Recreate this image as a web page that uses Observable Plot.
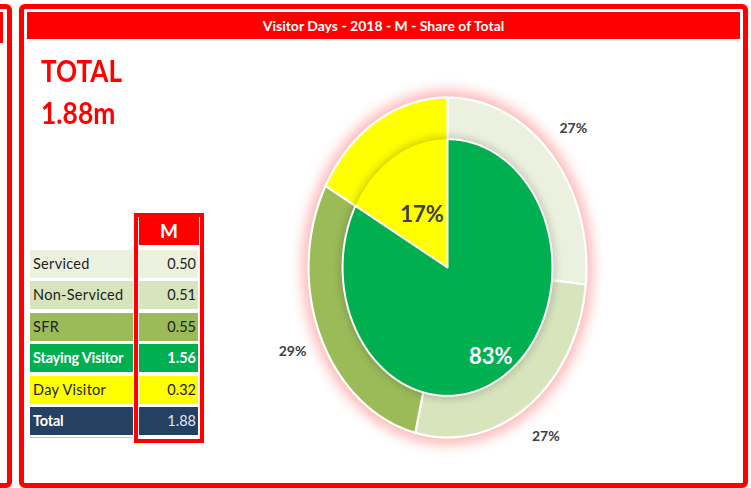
<!DOCTYPE html>
<html>
<head>
<meta charset="utf-8">
<script src="https://cdn.jsdelivr.net/npm/d3@7"></script>
<script src="https://cdn.jsdelivr.net/npm/@observablehq/plot@0.6"></script>
<style>
  html, body { margin: 0; padding: 0; background: #fff; }
  body { width: 751px; height: 488px; position: relative; overflow: hidden; font-family: Lato, "Open Sans", sans-serif; }
  .abs { position: absolute; box-sizing: border-box; }
  #chart { position: absolute; left: 0; top: 0; }
</style>
</head>
<body>
<script>
// ---- data ----
const titleText = "Visitor Days - 2018 - M - Share of Total";
const headerLabel = "M";
const totalHeading = "TOTAL";
const totalText = "1.88m";
const categories = ["Serviced", "Non-Serviced", "SFR", "Staying Visitor", "Day Visitor", "Total"];
const values = [0.50, 0.51, 0.55, 1.56, 0.32, 1.88];
const seriesColors = ["#EBF1DE", "#D8E4BC", "#9BBB59", "#00B050", "#FFFF00", "#254061"];
const ringCategories = ["Serviced", "Non-Serviced", "SFR", "Day Visitor"];
const pieCategories = ["Staying Visitor", "Day Visitor"];

// ---- styles ----
const textColors = ["#1e1e1e", "#1e1e1e", "#1e1e1e", "#ffffff", "#1e1e1e", "#ffffff"];
const valueColors = ["#1e1e1e", "#1e1e1e", "#1e1e1e", "#ffffff", "#1e1e1e", "#dfe5ee"];
const labelBold = [false, false, false, true, false, true];
const valueBold = [false, false, false, true, false, false];

const body = document.body;
function div(style, text) {
  const d = document.createElement("div");
  d.className = "abs";
  Object.assign(d.style, style);
  if (text != null) d.textContent = text;
  body.appendChild(d);
  return d;
}

// frames
div({left: "-30px", top: "4px", width: "42px", height: "484px", border: "5px solid #ff0000", borderRadius: "6px"});
div({left: "0px", top: "12px", width: "3px", height: "31px", background: "#ff0000"});
div({left: "19px", top: "4px", width: "729px", height: "484px", border: "5px solid #ff0000", borderRadius: "6px", boxShadow: "0 0 1px #ff9999"});
div({left: "27px", top: "12px", width: "713px", height: "27px", background: "#ff0000", color: "#fff",
     fontWeight: "bold", fontSize: "14px", lineHeight: "27px", textAlign: "center"}, titleText);

// TOTAL heading
div({left: "41px", top: "55px", fontSize: "30px", lineHeight: "30px", fontWeight: "bold", color: "#ff0000",
     transform: "scaleX(0.87)", transformOrigin: "0 0", whiteSpace: "nowrap"}, totalHeading);
div({left: "41px", top: "97px", fontSize: "30px", lineHeight: "30px", fontWeight: "bold", color: "#ff0000",
     transform: "scaleX(0.88)", transformOrigin: "0 0", whiteSpace: "nowrap"}, totalText);

// table
div({left: "134px", top: "213px", width: "70px", height: "230px", border: "4px solid #ff0000"});
div({left: "139px", top: "217px", width: "60px", height: "28px", background: "#ff0000", color: "#fff",
     fontWeight: "bold", fontSize: "19px", lineHeight: "28px", textAlign: "center"}, headerLabel);
const fmt = d3.format(".2f");
categories.forEach((c, i) => {
  const top = 250 + i * 31.4;
  div({left: "30px", top: top + "px", width: "103px", height: "28px", background: seriesColors[i], color: textColors[i],
       fontSize: "14.5px", lineHeight: "28px", paddingLeft: "3px", fontWeight: labelBold[i] ? "bold" : "normal",
       letterSpacing: labelBold[i] ? "-0.2px" : "0.3px", whiteSpace: "nowrap"}, c);
  div({left: "139px", top: top + "px", width: "59px", height: "28px", background: seriesColors[i], color: valueColors[i],
       fontSize: "14.5px", lineHeight: "28px", paddingRight: "2px", textAlign: "right", fontWeight: valueBold[i] ? "bold" : "normal"}, fmt(values[i]));
});
div({left: "30px", top: "437px", width: "103px", height: "1px", background: "#c8c8c8"});

// ---- pie chart ----
const valueOf = c => values[categories.indexOf(c)];
const total = valueOf("Total");
const pct = d3.format(".0%");
const ringR0 = 0.70, ringR1 = 1.0, pieR = 0.755;
const outerLabelR = 1.22;
const pieLabelR = [0.61, 0.36];

function arcPolygon(key, a0, a1, r0, r1) {
  const pts = [];
  const n = Math.max(2, Math.ceil((a1 - a0) / (Math.PI / 360)));
  for (let k = 0; k <= n; k++) {
    const a = a0 + (a1 - a0) * k / n;
    pts.push({key, x: r1 * Math.sin(a), y: r1 * Math.cos(a)});
  }
  if (r0 > 0) {
    for (let k = n; k >= 0; k--) {
      const a = a0 + (a1 - a0) * k / n;
      pts.push({key, x: r0 * Math.sin(a), y: r0 * Math.cos(a)});
    }
  } else {
    pts.push({key, x: 0, y: 0});
  }
  pts.push({...pts[0]});
  return pts;
}

const pieGen = d3.pie().sort(null).value(d => d.value);
const ringArcs = pieGen(ringCategories.map(c => ({key: c, value: valueOf(c)})));
const pieArcs = pieGen(pieCategories.map(c => ({key: c, value: valueOf(c)})));

const ringPts = ringArcs.flatMap(a => arcPolygon(a.data.key, a.startAngle, a.endAngle, ringR0, ringR1));
const piePts = pieArcs.flatMap(a => arcPolygon(a.data.key, a.startAngle, a.endAngle, 0, pieR));
const glowPts = arcPolygon("glow", 0, 2 * Math.PI, 0, 1.02);
const shadowPts = arcPolygon("shadow", 0, 2 * Math.PI, 0, pieR + 0.01);

const mid = a => (a.startAngle + a.endAngle) / 2;
const outerLabels = ringArcs.filter(a => a.data.key !== "Day Visitor").map(a => ({
  x: outerLabelR * Math.sin(mid(a)), y: outerLabelR * Math.cos(mid(a)), text: pct(a.data.value / total)
}));
const pieLabels = pieArcs.map((a, i) => ({
  key: a.data.key, x: pieLabelR[i] * Math.sin(mid(a)), y: pieLabelR[i] * Math.cos(mid(a)), text: pct(a.data.value / total)
}));

const chart = Plot.plot({
  width: 751,
  height: 488,
  margin: 0,
  x: {domain: [-1, 1], range: [308, 586], axis: null},
  y: {domain: [-1, 1], range: [437, 97], axis: null},
  color: {domain: categories, range: seriesColors},
  style: {background: "transparent", overflow: "visible", fontFamily: "Lato, sans-serif"},
  marks: [
    Plot.line(glowPts, {x: "x", y: "y", fill: "#ff0000", stroke: "#ff0000", strokeWidth: 6}),
    Plot.line(ringPts, {x: "x", y: "y", z: "key", fill: "key", stroke: "#ffffff", strokeWidth: 2.2, strokeLinejoin: "round"}),
    Plot.line(shadowPts, {x: "x", y: "y", fill: "#000000", stroke: "none"}),
    Plot.line(piePts, {filter: d => d.key === "Day Visitor", x: "x", y: "y", z: "key", fill: "key", stroke: "none"}),
    Plot.line(piePts, {filter: d => d.key === "Staying Visitor", x: "x", y: "y", z: "key", fill: "key", stroke: "#ffffff", strokeWidth: 2, strokeLinejoin: "round"}),
    Plot.text(outerLabels, {x: "x", y: "y", text: "text", fontSize: 14, fontWeight: "bold", fill: "#404040"}),
    Plot.text(pieLabels, {filter: d => d.key === "Day Visitor", x: "x", y: "y", text: "text", fontSize: 22, fontWeight: "bold", fill: "#404040"}),
    Plot.text(pieLabels, {filter: d => d.key === "Staying Visitor", x: "x", y: "y", text: "text", fontSize: 22, fontWeight: "bold", fill: "#ffffff"})
  ]
});
chart.id = "chart";

// soft effects
const ns = "http://www.w3.org/2000/svg";
const defs = document.createElementNS(ns, "defs");
defs.innerHTML = `
  <filter id="glowBlur" x="-30%" y="-30%" width="160%" height="160%"><feGaussianBlur stdDeviation="7"/></filter>
  <filter id="shadowBlur" x="-30%" y="-30%" width="160%" height="160%"><feGaussianBlur stdDeviation="5"/></filter>`;
chart.insertBefore(defs, chart.firstChild);
const lineGroups = chart.querySelectorAll('g[aria-label="line"]');
lineGroups[0].setAttribute("filter", "url(#glowBlur)");
lineGroups[0].setAttribute("opacity", "0.3");
lineGroups[2].setAttribute("filter", "url(#shadowBlur)");
lineGroups[2].setAttribute("opacity", "0.22");

body.appendChild(chart);
</script>
</body>
</html>
